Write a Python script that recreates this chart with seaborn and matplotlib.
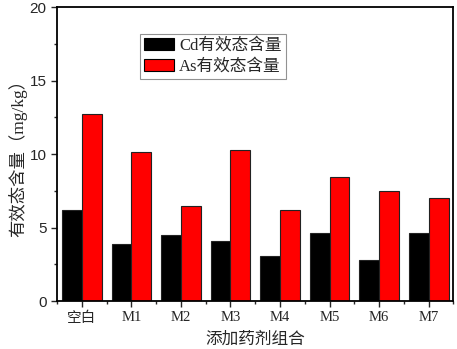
import matplotlib
matplotlib.use("Agg")
import matplotlib.pyplot as plt
import seaborn as sns
import pandas as pd
from matplotlib.ticker import MultipleLocator, FixedLocator

# data
groups = ['空白', 'M1', 'M2', 'M3', 'M4', 'M5', 'M6', 'M7']
cd_vals = [6.22, 3.90, 4.52, 4.10, 3.04, 4.63, 2.81, 4.63]
as_vals = [12.72, 10.13, 6.49, 10.28, 6.22, 8.43, 7.51, 7.00]
series = ['Cd有效态含量', 'As有效态含量']

df = pd.DataFrame({
    'group': groups * 2,
    'value': cd_vals + as_vals,
    'series': [series[0]] * len(groups) + [series[1]] * len(groups),
})

sns.set_style('ticks')
cjk_serif = ['Liberation Serif', 'Noto Sans CJK SC']
plt.rcParams['font.family'] = ['Liberation Sans', 'Noto Sans CJK SC']

fig = plt.figure(figsize=(4.57, 3.49), dpi=100)
ax = fig.add_axes([0.1247, 0.1375, 0.8676, 0.8415])

sns.barplot(
    data=df, x='group', y='value', hue='series', ax=ax,
    palette=['black', '#ff0000'], saturation=1, width=0.8,
    edgecolor='#222222', linewidth=0.8, errorbar=None,
)

ax.set_xlim(-0.5, 7.5)
ax.set_ylim(0, 20)
ax.yaxis.set_major_locator(MultipleLocator(5))
ax.yaxis.set_minor_locator(MultipleLocator(2.5))
ax.xaxis.set_minor_locator(FixedLocator([i + 0.5 for i in range(-1, 8)]))
ax.tick_params(axis='both', which='major', direction='out', length=4, width=1, labelsize=11)
ax.tick_params(axis='both', which='minor', direction='out', length=2.5, width=1)
for lab in ax.get_xticklabels():
    lab.set_family(cjk_serif)
    lab.set_fontsize(10.5)

for sp in ax.spines.values():
    sp.set_visible(True)
    sp.set_linewidth(1.3)
    sp.set_color('black')

ax.set_xlabel('添加药剂组合', family=cjk_serif, fontsize=12, labelpad=5)
ax.set_ylabel('有效态含量（mg/kg）', family=cjk_serif, fontsize=12.5, labelpad=2)

leg = ax.legend(
    loc='upper left', bbox_to_anchor=(0.209, 0.91), frameon=True, fancybox=False,
    prop={'family': cjk_serif, 'size': 12}, handlelength=1.8, handleheight=0.66,
    borderpad=0.25, labelspacing=0.3, handletextpad=0.3, borderaxespad=0,
)
leg.get_frame().set_edgecolor('#777777')
leg.get_frame().set_linewidth(0.8)
for h in leg.legend_handles:
    h.set_edgecolor('black')

fig.savefig('out.png', dpi=100)
